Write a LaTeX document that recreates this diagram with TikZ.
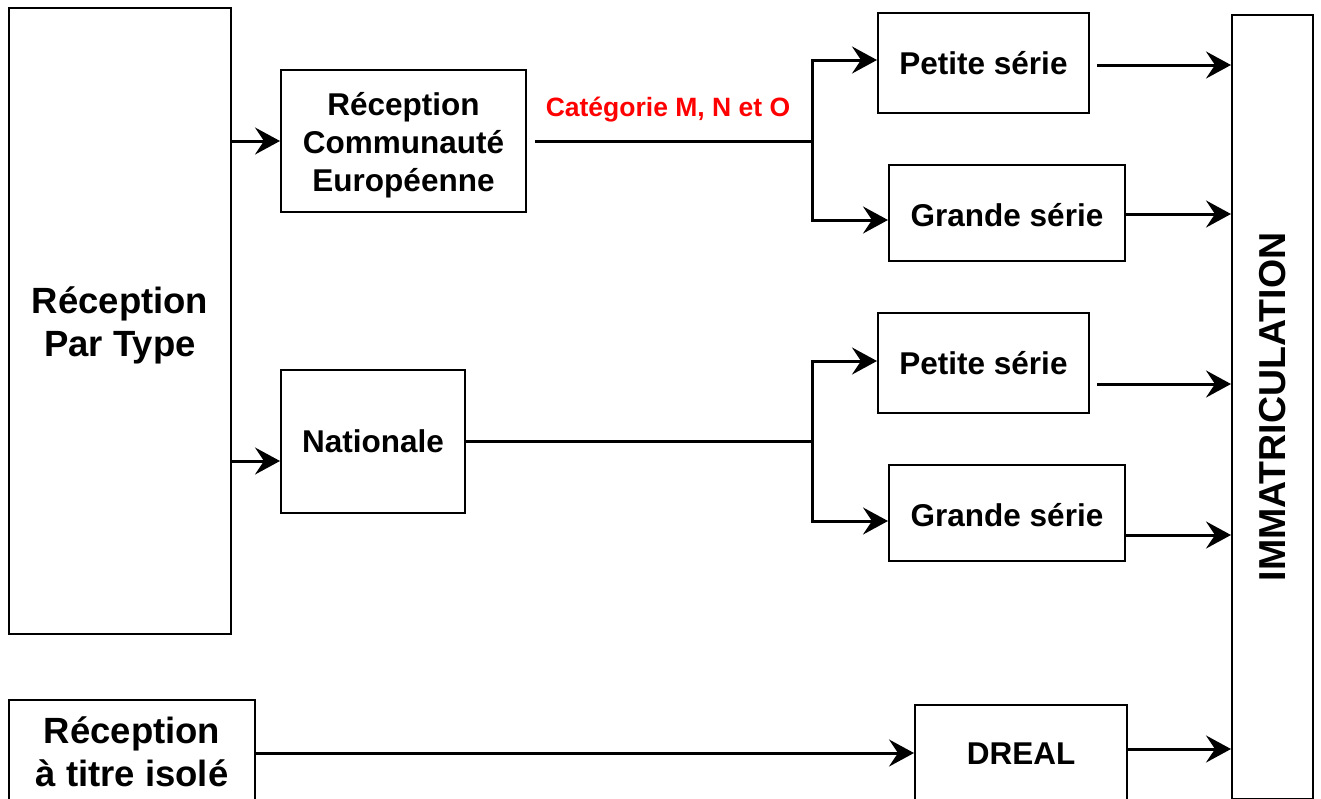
\documentclass[tikz,border=0pt]{standalone}
\usepackage{fontspec}
\setmainfont{Liberation Sans}
\usetikzlibrary{arrows.meta}
\newcommand{\lowered}[2]{\raisebox{-#1pt}[\height][\depth]{\begin{tabular}{@{}c@{}}#2\end{tabular}}}
\begin{document}
\begin{tikzpicture}[x=1pt,y=-1pt,
  box/.style={draw=black, line width=2pt, inner sep=0pt, align=center, fill=white,
    font=\bfseries\fontsize{31.5}{38}\selectfont},
  bigbox/.style={box, font=\bfseries\fontsize{36.5}{43}\selectfont},
  arr/.style={line width=3pt, -{Stealth[length=25pt,width=27pt,inset=9pt]}},
  conn/.style={line width=3pt},
  lbl/.style={text=red, inner sep=0pt, font=\bfseries\fontsize{26.5}{30}\selectfont}]
\clip (0,0) rectangle (1321,798);
\fill[white] (0,0) rectangle (1321,798);

% boxes
\node[bigbox, minimum width=222pt, minimum height=626pt] (A) at (120,321) {\lowered{5}{Réception\\Par Type}};
\node[box, minimum width=245pt, minimum height=142pt] (B) at (403.5,141) {\lowered{4.5}{Réception\\Communauté\\Européenne}};
\node[box, minimum width=184pt, minimum height=143pt] (C) at (373,441.5) {Nationale};
\node[box, minimum width=211pt, minimum height=100pt] (D) at (983.5,63) {Petite série};
\node[box, minimum width=236pt, minimum height=96pt] (E) at (1007,213) {\lowered{6}{Grande série}};
\node[box, minimum width=211pt, minimum height=100pt] (F) at (983.5,363) {Petite série};
\node[box, minimum width=236pt, minimum height=96pt] (G) at (1007,513) {\lowered{6}{Grande série}};
\node[box, rotate=90, minimum width=784pt, minimum height=81pt,
  font=\bfseries\fontsize{37.5}{43}\selectfont] (H) at (1272.5,407) {IMMATRICULATION};
\node[bigbox, minimum width=246pt, minimum height=104pt] (I) at (132,752) {Réception\\à titre isolé};
\node[box, minimum width=212pt, minimum height=98pt] (J) at (1021,754) {DREAL};

% label
\node[lbl] (lab) at (668,110) {Catégorie M, N et O};

% A -> B, A -> C
\draw[arr] (A.east |- B.west) -- (B.west);
\coordinate (a2) at (A.east |- 0,461);
\draw[arr] (a2) -- (C.west |- a2);

% B branch
\coordinate (b1) at (535,141);
\coordinate (bj) at (812,141);
\draw[conn] (b1) -- (bj);
\coordinate (bd) at (D.west |- 0,60);
\coordinate (be) at (E.west |- 0,220);
\draw[arr] (bj) |- (bd);
\draw[arr] (bj) |- (be);

% C branch
\coordinate (cj) at (812,441);
\draw[conn] (C.east |- cj) -- (cj);
\coordinate (cf) at (F.west |- 0,361);
\coordinate (cg) at (G.west |- 0,521);
\draw[arr] (cj) |- (cf);
\draw[arr] (cj) |- (cg);

% to IMMATRICULATION
\coordinate (d1) at (1097,65);
\draw[arr] (d1) -- (H.north |- d1);
\coordinate (e1) at (E.east |- 0,214);
\draw[arr] (e1) -- (H.north |- e1);
\coordinate (f1) at (1097,384);
\draw[arr] (f1) -- (H.north |- f1);
\coordinate (g1) at (G.east |- 0,535);
\draw[arr] (g1) -- (H.north |- g1);
\coordinate (j1) at (J.east |- 0,749);
\draw[arr] (j1) -- (H.north |- j1);

% I -> J
\coordinate (i1) at (I.east |- 0,753);
\draw[arr] (i1) -- (J.west |- i1);
\end{tikzpicture}
\end{document}
